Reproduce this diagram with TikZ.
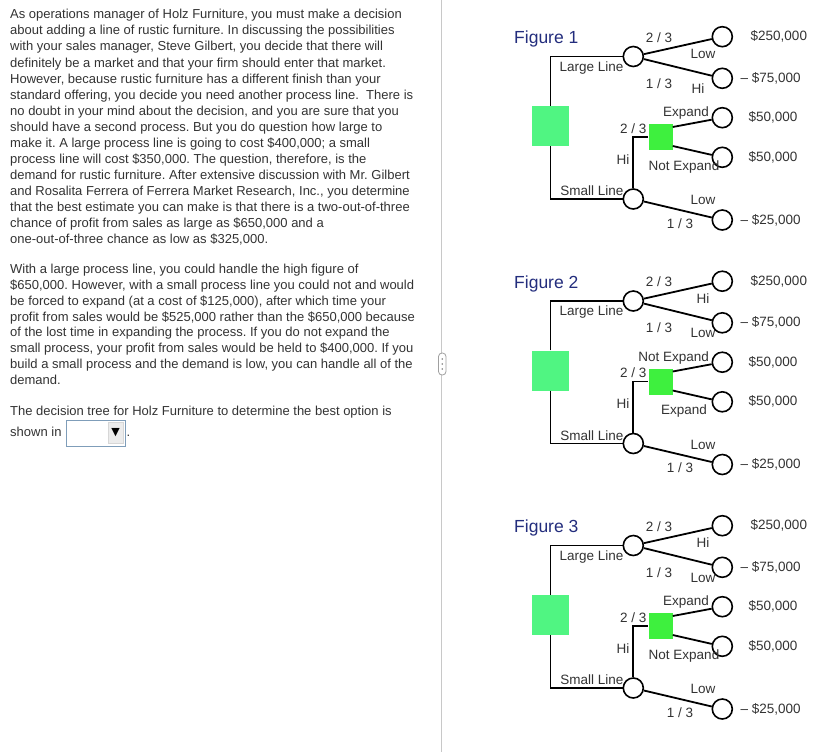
\documentclass[tikz,border=0pt]{standalone}
\usepackage{fontspec}
\setmainfont{Liberation Sans}
\newfontfamily\dejavu{DejaVu Sans}
\frenchspacing
\definecolor{txtgray}{RGB}{51,51,51}
\definecolor{navy}{RGB}{35,45,125}
\definecolor{biggreen}{RGB}{80,245,130}
\definecolor{smallgreen}{RGB}{62,240,62}
\definecolor{boxblue}{RGB}{127,157,185}
\definecolor{divgray}{RGB}{200,200,200}
\tikzset{
  para/.style={anchor=base west, inner sep=0pt, text=txtgray, font=\fontsize{13}{16}\selectfont},
  lbl/.style={inner sep=0pt, text=txtgray, font=\fontsize{13.5}{16}\selectfont},
  pay/.style={lbl, anchor=west},
  figtitle/.style={anchor=west, inner sep=0pt, text=navy, font=\fontsize{17.5}{20}\selectfont},
  chance/.style={circle, draw=black, line width=1.6pt, fill=white, minimum size=20pt, inner sep=0pt},
  bigsq/.style={rectangle, fill=biggreen, minimum width=37pt, minimum height=40pt, inner sep=0pt},
  smallsq/.style={rectangle, fill=smallgreen, minimum width=24pt, minimum height=26pt, inner sep=0pt},
  branch/.style={draw=black, line width=1.8pt},
}
\newcommand\holztree[8]{%
\begin{scope}[yshift=-#2pt]
  \node[figtitle] (#1t) at (514,39) {Figure #3};
  \node[bigsq] (#1D) at (550.5,126) {};
  \node[chance] (#1L) at (633.3,56.5) {};
  \node[chance] (#1S) at (633.3,199) {};
  \node[chance] (#1A) at (722.3,36.7) {};
  \node[chance] (#1B) at (722.3,78.3) {};
  \node[smallsq] (#1E) at (660.5,137) {};
  \node[chance] (#1C) at (722.3,117.7) {};
  \node[chance] (#1F) at (722.3,157.3) {};
  \node[chance] (#1G) at (722.3,220) {};
  \draw[branch] (#1D.north) |- (#1L);
  \draw[branch] (#1D.south) |- (#1S);
  \draw[branch] (#1L) -- (#1A);
  \draw[branch] (#1L) -- (#1B);
  \draw[branch] (#1S.north) |- (#1E.west);
  \draw[branch] ([yshift=10pt]#1E.east) -- (#1C);
  \draw[branch] ([yshift=-9pt]#1E.east) -- (#1F);
  \draw[branch] (#1S) -- (#1G);
  \node[lbl] (#1pa) at (659,37.3) {2 / 3};
  \node[lbl] (#1pb) at (659,83.3) {1 / 3};
  \node[lbl] (#1u) at (703,54) {#4};
  \node[lbl] (#1d) at (#8,88.5) {#5};
  \node[lbl, anchor=east] (#1ll) at (623.5,67.7) {Large Line};
  \node[lbl, anchor=east] (#1sl) at (623.5,191) {Small Line};
  \node[lbl] (#1pc) at (633.3,128.3) {2 / 3};
  \node[lbl] (#1hi) at (623,159.3) {Hi};
  \node[lbl, anchor=east] (#1eu) at (709,113.3) {#6};
  \node[lbl] (#1ed) at (684,166.7) {#7};
  \node[lbl] (#1lo) at (703,200) {Low};
  \node[lbl] (#1pd) at (680,223.3) {1 / 3};
  \node[pay] (#1va) at (750.5,36.7) {\$250,000};
  \node[pay] (#1vb) at (740.5,78.3) {– \$75,000};
  \node[pay] (#1vc) at (748.3,117.7) {\$50,000};
  \node[pay] (#1vd) at (748.3,157.3) {\$50,000};
  \node[pay] (#1ve) at (740.5,220) {– \$25,000};
\end{scope}}
\begin{document}
\begin{tikzpicture}[x=1pt,y=-1pt]
\useasboundingbox[fill=white] (0,0) rectangle (824,752);
% left text
\node[para] (a1) at (10,19) {As operations manager of Holz Furniture, you must make a decision};
\node[para] (a2) at (10,35) {about adding a line of rustic furniture. In discussing the possibilities};
\node[para] (a3) at (10,51) {with your sales manager, Steve Gilbert, you decide that there will};
\node[para] (a4) at (10,67) {definitely be a market and that your firm should enter that market.};
\node[para] (a5) at (10,83) {However, because rustic furniture has a different finish than your};
\node[para] (a6) at (10,99) {standard offering, you decide you need another process line.~ There is};
\node[para] (a7) at (10,115) {no doubt in your mind about the decision, and you are sure that you};
\node[para] (a8) at (10,131) {should have a second process. But you do question how large to};
\node[para] (a9) at (10,147) {make it. A large process line is going to cost \$400,000; a small};
\node[para] (a10) at (10,163) {process line will cost \$350,000. The question, therefore, is the};
\node[para] (a11) at (10,179) {demand for rustic furniture. After extensive discussion with Mr. Gilbert};
\node[para] (a12) at (10,195) {and Rosalita Ferrera of Ferrera Market Research, Inc., you determine};
\node[para] (a13) at (10,211) {that the best estimate you can make is that there is a two-out-of-three};
\node[para] (a14) at (10,227) {chance of profit from sales as large as \$650,000 and a};
\node[para] (a15) at (10,243) {one-out-of-three chance as low as \$325,000.};
\node[para] (b1) at (10,273.3) {With a large process line, you could handle the high figure of};
\node[para] (b2) at (10,289.2) {\$650,000. However, with a small process line you could not and would};
\node[para] (b3) at (10,305.1) {be forced to expand (at a cost of \$125,000), after which time your};
\node[para] (b4) at (10,321) {profit from sales would be \$525,000 rather than the \$650,000 because};
\node[para] (b5) at (10,336.8) {of the lost time in expanding the process. If you do not expand the};
\node[para] (b6) at (10,352.7) {small process, your profit from sales would be held to \$400,000. If you};
\node[para] (b7) at (10,368.6) {build a small process and the demand is low, you can handle all of the};
\node[para] (b8) at (10,384.4) {demand.};
\node[para] (c1) at (10,415) {The decision tree for Holz Furniture to determine the best option is};
\node[para] (c2) at (10,436.7) {shown in};
% dropdown
\node[draw=boxblue, line width=0.9pt, fill=white, minimum width=59pt, minimum height=26pt, inner sep=0pt] (dd) at (95.5,433) {};
\node[draw={rgb,255:red,215;green,215;blue,215}, fill={rgb,255:red,236;green,236;blue,236}, minimum width=15pt, minimum height=21pt, inner sep=0pt] (ddb) at (115.5,433) {};
\node[inner sep=0pt, font=\dejavu\fontsize{11}{12}\selectfont] (dda) at (115.5,433) {▼};
\node[para] (dot) at (126.5,436.7) {.};
% divider
\draw[divgray, line width=1pt] (441,0) -- (441,752);
\draw[draw={rgb,255:red,160;green,160;blue,160}, fill=white, line width=0.8pt, rounded corners=3.5pt] (438.5,353) rectangle (446,375);
\foreach \yy in {359,364,369} \fill[gray] (442.25,\yy) circle (0.9pt);
% trees
\holztree{f1}{0}{1}{Low}{Hi}{Expand}{Not Expand}{698}
\holztree{f2}{244.5}{2}{Hi}{Low}{Not Expand}{Expand}{703}
\holztree{f3}{489}{3}{Hi}{Low}{Expand}{Not Expand}{703}
\end{tikzpicture}
\end{document}
